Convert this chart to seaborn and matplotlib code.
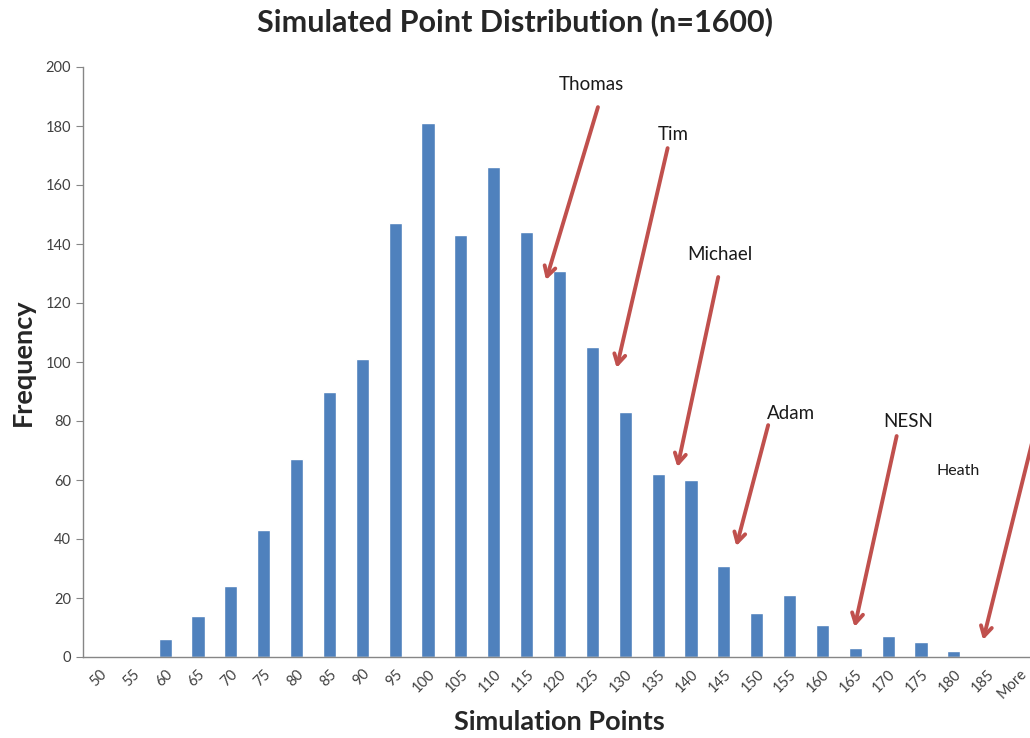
import pandas as pd
import matplotlib
matplotlib.use("Agg")
import matplotlib.pyplot as plt
import seaborn as sns

# Histogram bins and counts
bins = ["50", "55", "60", "65", "70", "75", "80", "85", "90", "95", "100", "105",
        "110", "115", "120", "125", "130", "135", "140", "145", "150", "155", "160",
        "165", "170", "175", "180", "185", "More"]
counts = [0, 0, 6, 14, 24, 43, 67, 90, 101, 147, 181, 143, 166, 144, 131, 105,
          83, 62, 60, 31, 15, 21, 11, 3, 7, 5, 2, 0, 0]

# annotations: name, text pos, arrow tail, arrow tip (data coords)
names = ["Thomas", "Tim", "Michael", "Adam", "NESN", "Heath"]
text_x = [14.98, 17.47, 18.89, 21.05, 24.62, 26.14]
text_y = [193.9, 177.0, 136.6, 82.7, 79.7, 63.0]
tail_x = [15.17, 17.29, 18.83, 20.35, 24.26, 28.5]
tail_y = [186.4, 172.5, 128.8, 78.6, 74.9, 78.0]
tip_x = [13.59, 15.74, 17.59, 19.38, 22.98, 26.89]
tip_y = [127.8, 98.0, 64.4, 37.6, 10.2, 5.8]
name_size = [13.5, 13.5, 13.5, 13.5, 13.5, 11.5]

df = pd.DataFrame({"bin": bins, "count": counts})

sns.set_style("white")
plt.rcParams['font.family'] = ['Lato', 'DejaVu Sans']

fig = plt.figure(figsize=(10.3, 7.38), dpi=100)
ax = fig.add_axes([83/1030, 81/738, 953/1030, 590/738])

sns.barplot(data=df, x="bin", y="count", order=bins, color="#4F81BD",
            width=0.4, saturation=1, ax=ax)

ax.set_xlim(-0.5, len(bins) - 0.5)
ax.set_ylim(0, 200)
ax.set_yticks(range(0, 201, 20))

grey = "#868686"
for s in ["top", "right"]:
    ax.spines[s].set_visible(False)
for s in ["left", "bottom"]:
    ax.spines[s].set_color(grey)
    ax.spines[s].set_linewidth(1)

ax.set_xticks([i - 0.5 for i in range(len(bins) + 1)], minor=True)
ax.tick_params(axis="x", which="major", length=0, pad=7)
ax.tick_params(axis="x", which="minor", length=5, color=grey, direction="out")
ax.tick_params(axis="y", length=5, color=grey, direction="out", left=True,
               labelsize=10.5, labelcolor="#404040")
ax.set_xticks(range(len(bins)))
ax.set_xticklabels(bins, rotation=45, ha="right", rotation_mode="anchor",
                   fontsize=10.5, color="#404040")

ax.set_xlabel("Simulation Points", fontsize=19.5, fontweight="bold", labelpad=6)
ax.set_ylabel("Frequency", fontsize=19.5, fontweight="bold", labelpad=8)
fig.suptitle("Simulated Point Distribution (n=1600)", fontsize=22,
             fontweight="bold", x=515/1030, y=0.99)

red = "#C0504D"
for i, n in enumerate(names):
    ax.annotate("", xy=(tip_x[i], tip_y[i]), xytext=(tail_x[i], tail_y[i]),
                arrowprops=dict(arrowstyle="->,head_length=0.7,head_width=0.4",
                                color=red, lw=2.8, shrinkA=0, shrinkB=0),
                annotation_clip=False)
    ax.text(text_x[i], text_y[i], n, fontsize=name_size[i], ha="center",
            va="center", color="#1a1a1a")

fig.savefig("out.png", dpi=100)
